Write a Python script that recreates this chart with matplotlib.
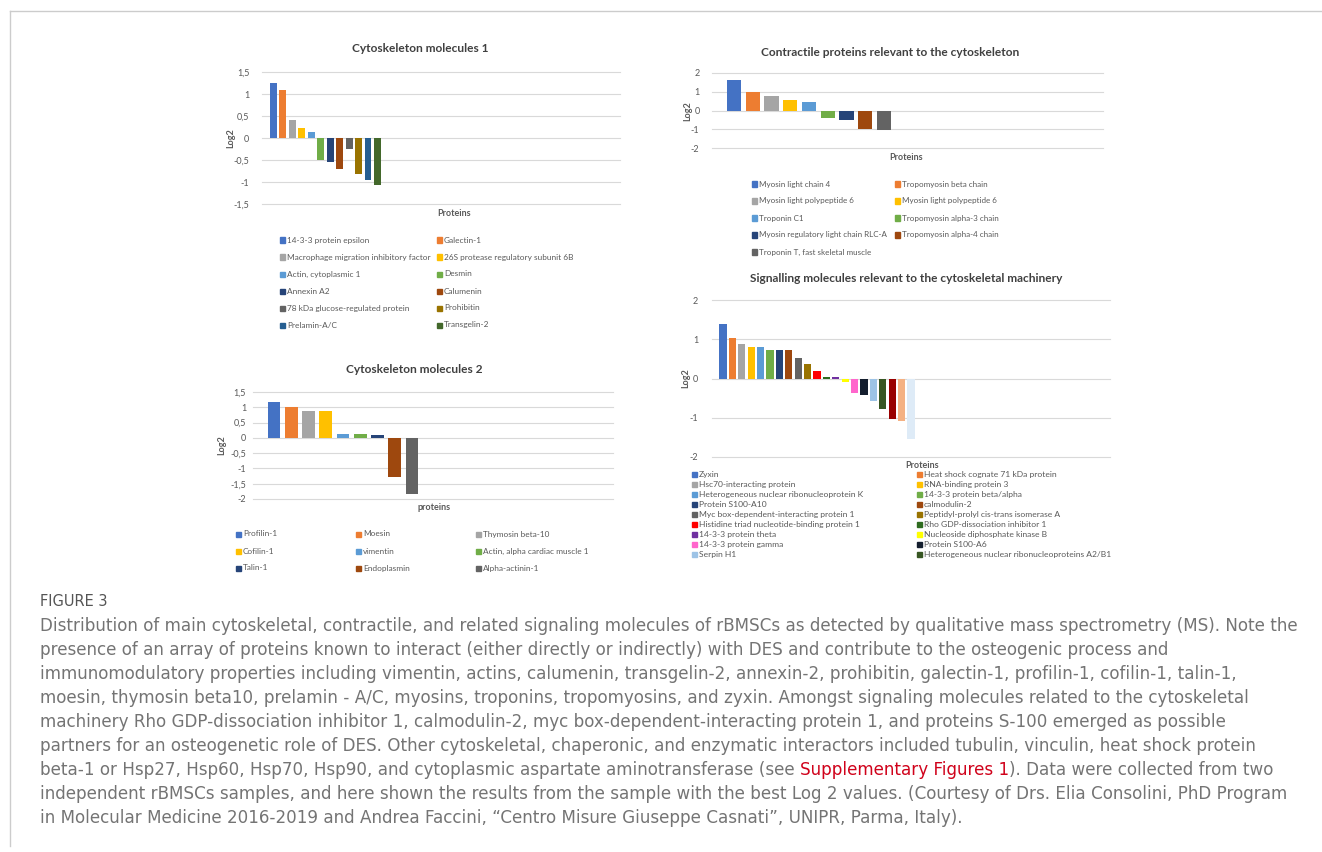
import matplotlib.pyplot as plt
import numpy as np
from matplotlib.lines import Line2D
from matplotlib.patches import Rectangle

plt.rcParams["axes.unicode_minus"] = False
plt.rcParams["font.family"] = ["Lato", "DejaVu Sans"]

W, H = 1322, 852

# ---- data -------------------------------------------------------------
cyto1_names = ["14-3-3 protein epsilon", "Galectin-1",
               "Macrophage migration inhibitory factor", "26S protease regulatory subunit 6B",
               "Actin, cytoplasmic 1", "Desmin", "Annexin A2", "Calumenin",
               "78 kDa glucose-regulated protein", "Prohibitin", "Prelamin-A/C", "Transgelin-2"]
cyto1_values = [1.25, 1.08, 0.42, 0.23, 0.13, -0.50, -0.55, -0.70, -0.24, -0.82, -0.96, -1.06]
cyto1_colors = ["#4472C4", "#ED7D31", "#A5A5A5", "#FFC000", "#5B9BD5", "#70AD47",
                "#264478", "#9E480E", "#636363", "#997300", "#255E91", "#43682B"]

contr_names = ["Myosin light chain 4", "Tropomyosin beta chain",
               "Myosin light polypeptide 6", "Myosin light polypeptide 6",
               "Troponin C1", "Tropomyosin alpha-3 chain",
               "Myosin regulatory light chain RLC-A", "Tropomyosin alpha-4 chain",
               "Troponin T, fast skeletal muscle"]
contr_values = [1.65, 1.0, 0.8, 0.55, 0.45, -0.4, -0.5, -1.0, -1.05]
contr_colors = ["#4472C4", "#ED7D31", "#A5A5A5", "#FFC000", "#5B9BD5", "#70AD47",
                "#264478", "#9E480E", "#636363"]

cyto2_names = ["Profilin-1", "Moesin", "Thymosin beta-10", "Cofilin-1", "vimentin",
               "Actin, alpha cardiac muscle 1", "Talin-1", "Endoplasmin", "Alpha-actinin-1"]
cyto2_values = [1.18, 1.0, 0.88, 0.88, 0.14, 0.14, 0.10, -1.28, -1.83]
cyto2_colors = ["#4472C4", "#ED7D31", "#A5A5A5", "#FFC000", "#5B9BD5", "#70AD47",
                "#264478", "#9E480E", "#636363"]

sig_names = ["Zyxin", "Heat shock cognate 71 kDa protein", "Hsc70-interacting protein",
             "RNA-binding protein 3", "Heterogeneous nuclear ribonucleoprotein K",
             "14-3-3 protein beta/alpha", "Protein S100-A10", "calmodulin-2",
             "Myc box-dependent-interacting protein 1", "Peptidyl-prolyl cis-trans isomerase A",
             "Histidine triad nucleotide-binding protein 1", "Rho GDP-dissociation inhibitor 1",
             "14-3-3 protein theta", "Nucleoside diphosphate kinase B",
             "14-3-3 protein gamma", "Protein S100-A6", "Serpin H1",
             "Heterogeneous nuclear ribonucleoproteins A2/B1"]
sig_values = [1.40, 1.03, 0.89, 0.80, 0.80, 0.73, 0.73, 0.73, 0.53, 0.36, 0.20,
              0.05, 0.05, -0.10, -0.36, -0.42, -0.57, -0.78, -1.03, -1.08, -1.54]
sig_colors = ["#4472C4", "#ED7D31", "#A5A5A5", "#FFC000", "#5B9BD5", "#70AD47",
              "#264478", "#9E480E", "#636363", "#997300", "#FF0000", "#2E6B1F",
              "#7030A0", "#FFFF00", "#FF66CC", "#141E2E", "#9DC3E6", "#375623",
              "#990000", "#F4B183", "#DEEBF7"]

caption_lines = [
    "Distribution of main cytoskeletal, contractile, and related signaling molecules of rBMSCs as detected by qualitative mass spectrometry (MS). Note the",
    "presence of an array of proteins known to interact (either directly or indirectly) with DES and contribute to the osteogenic process and",
    "immunomodulatory properties including vimentin, actins, calumenin, transgelin-2, annexin-2, prohibitin, galectin-1, profilin-1, cofilin-1, talin-1,",
    "moesin, thymosin beta10, prelamin - A/C, myosins, troponins, tropomyosins, and zyxin. Amongst signaling molecules related to the cytoskeletal",
    "machinery Rho GDP-dissociation inhibitor 1, calmodulin-2, myc box-dependent-interacting protein 1, and proteins S-100 emerged as possible",
    "partners for an osteogenetic role of DES. Other cytoskeletal, chaperonic, and enzymatic interactors included tubulin, vinculin, heat shock protein",
    "beta-1 or Hsp27, Hsp60, Hsp70, Hsp90, and cytoplasmic aspartate aminotransferase (see Supplementary Figures 1). Data were collected from two",
    "independent rBMSCs samples, and here shown the results from the sample with the best Log 2 values. (Courtesy of Drs. Elia Consolini, PhD Program",
    "in Molecular Medicine 2016-2019 and Andrea Faccini, \u201cCentro Misure Giuseppe Casnati\u201d, UNIPR, Parma, Italy).",
]
link_text = "Supplementary Figures 1"

# ---- helpers ----------------------------------------------------------
TXT = "#595959"


def fx(px):
    return px / W


def fy(py):
    return 1 - py / H


fig = plt.figure(figsize=(W / 100, H / 100), dpi=100)
renderer = fig.canvas.get_renderer()


def panel(box, ylim, ticks, values, colors, c0, step, width, pad):
    left, top, right, bottom = box
    ax = fig.add_axes([fx(left), fy(bottom), (right - left) / W, (bottom - top) / H])
    idx = np.arange(len(values))
    ax.bar(idx, values, width=width, color=colors, zorder=3)
    ax.set_xlim(-(c0 - left) / step, (right - c0) / step)
    ax.set_ylim(*ylim)
    ax.set_yticks(ticks)
    ax.set_yticklabels([f"{t:g}".replace(".", ",") for t in ticks])
    ax.set_xticks([])
    ax.grid(axis="y", color="#d9d9d9", linewidth=0.8)
    ax.set_axisbelow(True)
    for gl in ax.get_ygridlines():
        gl.set_clip_on(False)
    for sp in ax.spines.values():
        sp.set_visible(False)
    ax.tick_params(length=0, labelsize=6.5, labelcolor=TXT, pad=pad)
    return ax


def legend(names, colors, x0, y0, dx, dy, ncol, size):
    for i, (name, col) in enumerate(zip(names, colors)):
        r, c = divmod(i, ncol)
        x = x0 + c * dx
        y = y0 + r * dy
        fig.patches.append(Rectangle((fx(x), fy(y + 2.5)), 5 / W, 5 / H,
                                     transform=fig.transFigure, color=col))
        fig.text(fx(x + 7), fy(y), name, fontsize=size, color=TXT, va="center")


def labels(title, tpos, ylab, ypos, xlab, xpos):
    fig.text(fx(tpos[0]), fy(tpos[1]), title, fontsize=8.6, fontweight="bold",
             color="#404040", ha="center", va="center")
    fig.text(fx(ypos[0]), fy(ypos[1]), ylab, fontsize=6.5, fontweight="bold",
             color=TXT, ha="center", va="center", rotation=90)
    fig.text(fx(xpos[0]), fy(xpos[1]), xlab, fontsize=6.5, fontweight="bold",
             color=TXT, ha="center", va="center")


# ---- panels -----------------------------------------------------------
panel((262, 72, 620, 204), (-1.5, 1.5), [-1.5, -1, -0.5, 0, 0.5, 1, 1.5],
      cyto1_values, cyto1_colors, 273.5, 9.45, 0.74, 9)
labels("Cytoskeleton molecules 1", (420, 48), "Log2", (231, 138), "Proteins", (454, 213))
legend(cyto1_names, cyto1_colors, 280, 240, 157, 17, 2, 5.95)

panel((712, 73, 1103, 148), (-2, 2), [-2, -1, 0, 1, 2],
      contr_values, contr_colors, 734, 18.75, 0.75, 9)
labels("Contractile proteins relevant to the cytoskeleton", (890, 52), "Log2", (688, 111),
       "Proteins", (906, 157))
legend(contr_names, contr_colors, 752, 184, 143, 17, 2, 5.8)

panel((253, 392, 613, 499), (-2, 1.5), [-2, -1.5, -1, -0.5, 0, 0.5, 1, 1.5],
      cyto2_values, cyto2_colors, 274, 17.25, 0.75, 5)
labels("Cytoskeleton molecules 2", (414, 370), "Log2", (222, 445), "proteins", (434, 508))
legend(cyto2_names, cyto2_colors, 236, 534, 120, 17, 3, 5.95)

panel((712, 300, 1110, 457), (-2, 2), [-2, -1, 0, 1, 2],
      sig_values, sig_colors, 723, 9.4, 0.78, 10)
labels("Signalling molecules relevant to the cytoskeletal machinery", (906, 279), "Log2",
       (686, 378), "Proteins", (922, 465))
legend(sig_names, sig_colors, 692, 474, 225, 10.1, 2, 6.1)

# ---- frame and caption ------------------------------------------------
fig.add_artist(Line2D([fx(10), 1], [fy(11), fy(11)], color="#cccccc", lw=1))
fig.add_artist(Line2D([fx(10), fx(10)], [fy(11), fy(846)], color="#cccccc", lw=1))

fig.text(fx(40), fy(602), "FIGURE 3", fontsize=10.5, color="#555555", va="center",
         family="DejaVu Sans")

CAP = "#747474"
CAP_FONT = "DejaVu Sans"

# fit the caption size so the first line spans the measured width
probe = fig.text(0, 0, caption_lines[0], fontsize=10, family=CAP_FONT)
cap_size = 10 * 1258 / probe.get_window_extent(renderer).width
probe.remove()

for i, line in enumerate(caption_lines):
    y = fy(631 + 24 * i)
    kw = dict(fontsize=cap_size, family=CAP_FONT, va="baseline")
    if link_text in line:
        pre, _, post = line.partition(link_text)
        t1 = fig.text(fx(40), y, pre.rstrip(), color=CAP, **kw)
        p1 = fig.text(0, 0, "x x", **kw)
        p2 = fig.text(0, 0, "xx", **kw)
        space = p1.get_window_extent(renderer).width - p2.get_window_extent(renderer).width
        p1.remove()
        p2.remove()
        x1 = 40 + t1.get_window_extent(renderer).width + space
        t2 = fig.text(fx(x1), y, link_text, color="#d0021b", **kw)
        x2 = x1 + t2.get_window_extent(renderer).width
        fig.text(fx(x2), y, post, color=CAP, **kw)
    else:
        fig.text(fx(40), y, line, color=CAP, **kw)

fig.savefig("out.png", dpi=100)
